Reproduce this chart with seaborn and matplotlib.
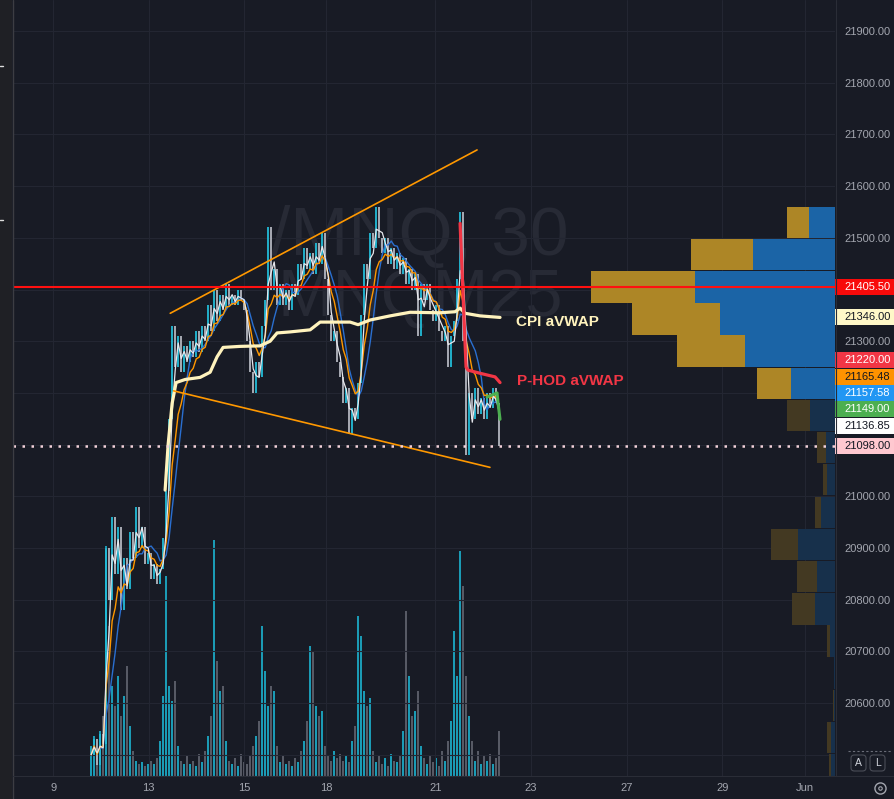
import numpy as np
import pandas as pd
import matplotlib
matplotlib.use("Agg")
import matplotlib.pyplot as plt
import matplotlib.transforms as mtransforms
from matplotlib.patches import Rectangle, FancyBboxPatch
from matplotlib.lines import Line2D
import seaborn as sns

# ---- values ----
# coarse 30m bars, x in trading days counted from May 9
bar_start_day = 0.795
bar_step_day = 0.0628

close = [
    20500, 20530, 20480, 20540, 20520,
    20900, 20800, 20960, 20850, 20940, 20780, 20880, 20820, 20930, 20880,
    20980, 20900, 20940, 20870, 20890, 20840, 20870, 20830, 20860, 20920,
    21010, 21150, 21330, 21250, 21310, 21240, 21290, 21260, 21300, 21270,
    21320, 21280, 21330, 21300, 21370, 21320, 21400, 21340, 21390, 21360,
    21410, 21370, 21390, 21370, 21400, 21380, 21360, 21300, 21240, 21200,
    21260, 21230, 21330, 21380, 21520, 21400, 21440, 21370, 21410, 21370,
    21400, 21360, 21410, 21390, 21450, 21420, 21480, 21440, 21470, 21430,
    21490, 21450, 21510, 21420, 21350, 21300, 21320, 21260, 21230, 21180,
    21210, 21120, 21170, 21150, 21220, 21350, 21450, 21420, 21510, 21480,
    21560, 21500, 21470, 21500, 21450, 21480, 21440, 21470, 21430, 21460,
    21410, 21440, 21400, 21430, 21310, 21410, 21380, 21410, 21360, 21340,
    21370, 21320, 21300, 21330, 21250, 21310, 21340, 21420, 21550, 21300,
    21080, 21200, 21150, 21210, 21160, 21190, 21150, 21200, 21170, 21210, 21180, 21098,
]

volume = [
    30, 40, 25, 45, 60,
    230, 150, 90, 70, 100, 60, 80, 110, 50, 25,
    15, 12, 14, 10, 12, 15, 12, 18,
    35, 80,
    200, 90, 75, 95,
    30, 15, 12, 20, 12, 15, 10, 22, 14, 25,
    40, 60,
    236, 115, 85, 90,
    35, 15, 12, 18, 10, 22, 14, 12, 20, 30,
    40, 55,
    150, 105, 70, 90,
    85, 30, 14, 20, 12, 15, 10, 18, 14, 25,
    35, 55,
    130, 125, 70, 60, 65,
    30, 20, 15, 25, 18, 22, 15, 20, 14,
    35, 50,
    160, 140, 85, 70, 78,
    25, 14, 20, 12, 18, 10, 22, 15, 14, 20,
    45,
    165, 100, 60, 65, 85,
    30, 18, 12, 20, 14, 18, 10, 25, 15,
    35, 55,
    145, 100, 225, 190, 100,
    60, 35, 15, 25, 12, 20, 15, 22, 12, 18, 45,
]

cpi_avwap_day = [2.343, 2.406, 2.490, 2.573, 2.762, 3.075, 3.285, 3.431, 3.556, 3.912,
                 4.331, 4.540, 4.686, 4.958, 5.377, 5.586, 6.213, 6.381, 6.632, 7.050,
                 7.469, 8.096, 8.410, 8.515, 8.619, 8.933, 9.351]
cpi_avwap = [21012, 21100, 21180, 21220, 21226, 21230, 21240, 21270, 21288, 21290,
             21291, 21300, 21316, 21318, 21322, 21337, 21337, 21332, 21341, 21349,
             21356, 21355, 21357, 21364, 21354, 21349, 21346]

phod_avwap_day = [8.515, 8.640, 8.682, 8.933, 9.247, 9.351]
phod_avwap = [21528, 21250, 21244, 21238, 21231, 21220]

green_day = [9.079, 9.289, 9.310, 9.351]
green_line = [21192, 21200, 21180, 21149]

upper_trend_day = [2.45, 8.87]
upper_trend = [21354, 21670]
lower_trend_day = [2.52, 9.14]
lower_trend = [21204, 21056]

key_level = 21405.50
last_price = 21098.00

profile_price = [21530, 21468, 21405, 21343, 21281, 21218, 21156, 21094, 21032,
                 20969, 20907, 20845, 20782, 20720, 20658, 20596, 20533, 20471]
profile_up = [22, 62, 104, 88, 68, 34, 23, 9, 4, 6, 27, 20, 23, 3, 0.5, 1, 4, 2]
profile_down = [26, 82, 140, 115, 90, 44, 25, 9, 8, 14, 37, 18, 20, 5, 1, 1, 4, 4]
value_area_rows = 6

level_values = [21405.50, 21346.00, 21220.00, 21165.48, 21157.58, 21149.00, 21136.85, 21098.00]

date_tick_days = [0, 2, 4, 5.71, 8, 10, 12, 14, 15.73]
date_tick_labels = ["9", "13", "15", "18", "21", "23", "27", "29", "Jun"]

# ---- style ----
BG = "#181b25"
GRID = "#232632"
TXT = "#a3a6af"
UP = "#22bcd8"
DOWN = "#b4b7c0"
CREAM = "#fff3bd"
PHOD = "#f23645"

level_bg = ["#f80a0a", "#fff8c8", "#f23645", "#ff9200", "#2196f3", "#4caf50", "#ffffff", "#ffc8d0"]
level_fg = ["white", "#131722", "white", "#131722", "white", "white", "#131722", "#131722"]

sns.set_theme(style="dark", rc={"axes.facecolor": BG, "figure.facecolor": BG})
plt.rcParams["font.family"] = ["Liberation Sans", "DejaVu Sans"]

W, H = 894, 799
fig = plt.figure(figsize=(W / 100, H / 100), dpi=100)
pos = [13 / W, 23 / H, 822 / W, 776 / H]
xlim = (-0.84, 16.36)
ylim = (20459, 21960)

# volume pane underneath
ax_vol = fig.add_axes(pos)
ax = fig.add_axes(pos)
ax.patch.set_visible(False)

days = bar_start_day + bar_step_day * np.arange(len(close))
prices = pd.Series(close, dtype=float)
prev = prices.shift(1).fillna(prices.iloc[0])
is_up = (prices >= prev).values

ax_vol.bar(days, volume, width=bar_step_day * 0.78,
           color=np.where(is_up, "#1b9bb5", "#575a65"), linewidth=0)
ax_vol.set_xlim(*xlim)
ax_vol.set_ylim(0, 776)
ax_vol.set_xticks([])
ax_vol.set_yticks([])
for s in ax_vol.spines.values():
    s.set_visible(False)

# watermark
ax.text(420 / W, 1 - 255 / H, "/MNQ, 30", transform=fig.transFigure, fontsize=50,
        color="#272a35", ha="center", va="baseline", zorder=0.5)
ax.text(420 / W, 1 - 316 / H, "MNQM25", transform=fig.transFigure, fontsize=48,
        color="#272a35", ha="center", va="baseline", zorder=0.5)

# candles
lo = np.minimum(prev, prices)
hi = np.maximum(prev, prices)
ax.vlines(days, lo, hi, colors=np.where(is_up, UP, DOWN), linewidth=1.3, zorder=3)

ma = pd.DataFrame({
    "day": days,
    "fast": prices.rolling(3, min_periods=1).mean(),
    "mid": prices.ewm(span=7).mean(),
    "slow": prices.rolling(8, min_periods=1).mean(),
})
sns.lineplot(data=ma, x="day", y="slow", ax=ax, color="#2a6fd0", linewidth=1.0, zorder=4)
sns.lineplot(data=ma, x="day", y="mid", ax=ax, color="#ff9800", linewidth=1.0, zorder=4)
sns.lineplot(data=ma, x="day", y="fast", ax=ax, color="#e6e7ec", linewidth=0.9, zorder=4)

# anchored vwaps
sns.lineplot(x=cpi_avwap_day, y=cpi_avwap, ax=ax, color=CREAM, linewidth=2.3, zorder=5)
sns.lineplot(x=phod_avwap_day, y=phod_avwap, ax=ax, color=PHOD, linewidth=2.3, zorder=5, sort=False)
sns.lineplot(x=green_day, y=green_line, ax=ax, color="#4caf50", linewidth=2.2, zorder=5, sort=False)

# trend lines
ax.plot(upper_trend_day, upper_trend, color="#ff9800", linewidth=1.2, zorder=5)
ax.plot(lower_trend_day, lower_trend, color="#ff9800", linewidth=1.2, zorder=5)

ax.text(cpi_avwap_day[-1] + 0.34, cpi_avwap[-1] - 9, "CPI aVWAP", color=CREAM,
        fontsize=11, fontweight="bold", va="center", zorder=6)
ax.text(phod_avwap_day[-1] + 0.36, phod_avwap[-1] + 3, "P-HOD aVWAP", color=PHOD,
        fontsize=11, fontweight="bold", va="center", zorder=6)

ax.set_xlim(*xlim)
ax.set_xlabel("")
ax.set_ylabel("")
ax.grid(True, color=GRID, linewidth=0.8)
price_ticks = np.arange(20500, 22000, 100)
hidden = {21400, 21200, 21100, 20500}
ax.set_yticks(price_ticks)
ax.set_yticklabels(["" if t in hidden else f"{t:.2f}" for t in price_ticks])
ax.yaxis.tick_right()
ax.tick_params(axis="y", length=0, pad=6.5, labelsize=8, labelcolor=TXT)
ax.set_xticks(date_tick_days)
ax.set_xticklabels(date_tick_labels)
ax.tick_params(axis="x", length=0, pad=5, labelsize=8, labelcolor=TXT)
for s in ax.spines.values():
    s.set_visible(False)

# volume profile on the right, growing leftwards
ax_vp = ax.twiny()
n = len(profile_price)
blue_c = ["#1b64a6" if i < value_area_rows else "#17304b" for i in range(n)]
gold_c = ["#ad8626" if i < value_area_rows else "#433922" for i in range(n)]
ax_vp.barh(profile_price, profile_down, height=60.5, color=blue_c, linewidth=0, zorder=2)
ax_vp.barh(profile_price, profile_up, left=profile_down, height=60.5, color=gold_c,
           linewidth=0, zorder=2)
ax_vp.axhline(key_level, color="#ff1010", linewidth=1.5, zorder=4)
ax_vp.axhline(last_price, color="#f3d2da", linewidth=1.8, linestyle=(0, (1, 2.6)), zorder=4)
ax_vp.set_xlim(822, 0)
ax_vp.tick_params(top=False, labeltop=False, length=0)
ax_vp.grid(False)
for s in ax_vp.spines.values():
    s.set_visible(False)

ax.set_ylim(*ylim)

# price labels on the axis, stacked so they do not overlap
trans = mtransforms.blended_transform_factory(fig.transFigure, ax.transData)
order = np.argsort(level_values)
prev_y = -np.inf
for idx in order:
    y = max(level_values[idx], prev_y + 31.5)
    prev_y = y
    fig.add_artist(Rectangle((835 / W, y - 15.5), 59 / W, 31, transform=trans,
                             facecolor=level_bg[idx], edgecolor="none"))
    fig.text(844 / W, y, f"{level_values[idx]:.2f}", transform=trans, fontsize=8,
             color=level_fg[idx], va="center", ha="left")

# frame details
fig.add_artist(Rectangle((0, 0), 12 / W, 1, transform=fig.transFigure,
                         facecolor="#1f2025", edgecolor="none"))
fig.add_artist(Line2D([12.5 / W] * 2, [0, 1], color="#3c3d43", linewidth=1))
for yy in (66, 220):
    fig.add_artist(Line2D([0, 3 / W], [1 - yy / H] * 2, color="#dddddd", linewidth=1))
fig.add_artist(Line2D([13 / W, 1], [23 / H] * 2, color="#2a2d37", linewidth=0.8))
fig.add_artist(Line2D([835.5 / W] * 2, [23 / H, 1], color="#2a2d37", linewidth=0.8))
fig.add_artist(Line2D([848 / W, 891 / W], [1 - 751 / H] * 2, color="#6a6d78",
                      linewidth=0.8, linestyle=(0, (2, 2))))
for bx, lab in ((851, "A"), (870, "L")):
    fig.add_artist(FancyBboxPatch((bx / W, 1 - 771 / H), 15 / W, 16 / H,
                                  boxstyle="round,pad=0,rounding_size=0.004",
                                  transform=fig.transFigure, facecolor="none",
                                  edgecolor="#4a4d57", linewidth=0.8))
    fig.text((bx + 7.5) / W, 1 - 763 / H, lab, fontsize=7.5, color="#d1d4dc",
             ha="center", va="center")
fig.add_artist(Line2D([880 / W], [1 - 788 / H], marker="o", markersize=8,
                      markerfacecolor="none", markeredgecolor=TXT, markeredgewidth=1))
fig.add_artist(Line2D([880 / W], [1 - 788 / H], marker="o", markersize=2.5,
                      markerfacecolor="none", markeredgecolor=TXT, markeredgewidth=0.8))

fig.savefig("out.png", dpi=100, facecolor=BG)
